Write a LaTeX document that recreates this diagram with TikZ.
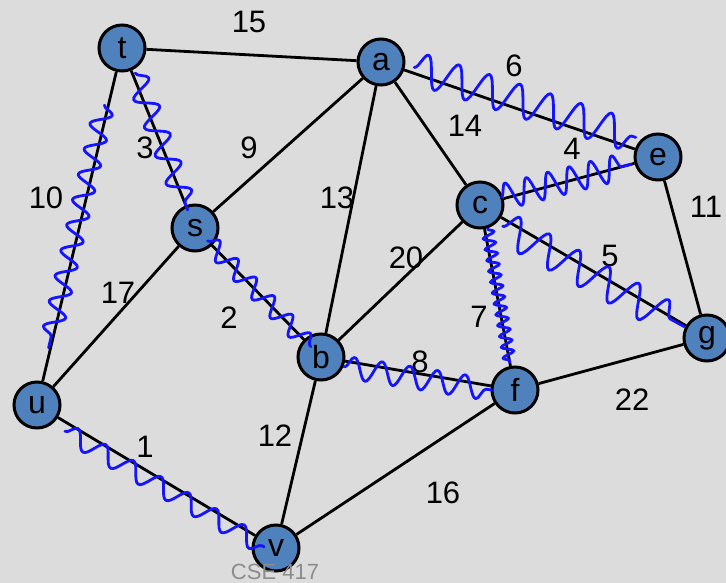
\documentclass[tikz,border=0pt]{standalone}
\usepackage{fontspec}
\setmainfont{Liberation Sans}
\usetikzlibrary{decorations.pathmorphing,calc,backgrounds}
\definecolor{bgc}{RGB}{220,220,220}
\definecolor{nodeblue}{RGB}{79,129,189}
\definecolor{hlblue}{RGB}{20,20,255}
\definecolor{credgray}{RGB}{140,140,140}
\begin{document}
\begin{tikzpicture}[x=1pt,y=-1pt,
  vert/.style={circle, draw=black, line width=3pt, fill=nodeblue, minimum size=46pt, inner sep=0pt, font=\fontsize{32}{32}\selectfont},
  edge/.style={draw=black, line width=2.8pt},
  wt/.style={font=\fontsize{31}{31}\selectfont, inner sep=0pt},
  hl/.style={draw=hlblue, line width=2.8pt, line cap=round, line join=round, decorate},
  credit/.style={font=\fontsize{22}{22}\selectfont, text=credgray, inner sep=0pt}]
\useasboundingbox (0,0) rectangle (726,583);
% nodes
\node[vert] (t) at (122,48) {t};
\node[vert] (a) at (381,62) {a};
\node[vert] (e) at (658,157) {e};
\node[vert] (c) at (480,205) {c};
\node[vert] (s) at (195,228) {s};
\node[vert] (g) at (707,338) {g};
\node[vert] (b) at (321,357) {b};
\node[vert] (f) at (515,390) {f};
\node[vert] (u) at (37,405) {u};
\node[vert] (v) at (276,548) {v};
\begin{scope}[on background layer]
\fill[bgc] (0,0) rectangle (726,583);
\draw[edge] (t) -- (a);
\draw[edge] (t) -- (s);
\draw[edge] (t) -- (u);
\draw[edge] (a) -- (s);
\draw[edge] (a) -- (b);
\draw[edge] (a) -- (c);
\draw[edge] (a) -- (e);
\draw[edge] (c) -- (e);
\draw[edge] (e) -- (g);
\draw[edge] (c) -- (g);
\draw[edge] (c) -- (b);
\draw[edge] (c) -- (f);
\draw[edge] (s) -- (b);
\draw[edge] (s) -- (u);
\draw[edge] (b) -- (f);
\draw[edge] (f) -- (g);
\draw[edge] (u) -- (v);
\draw[edge] (b) -- (v);
\draw[edge] (f) -- (v);
\end{scope}
% weights
\node[wt] (w15) at (249,22) {15};
\node[wt] (w6) at (514,66) {6};
\node[wt] (w14) at (465,126) {14};
\node[wt] (w4) at (572,149) {4};
\node[wt] (w11) at (706,207) {11};
\node[wt] (w3) at (145,148) {3};
\node[wt] (w9) at (249,148) {9};
\node[wt] (w10) at (46,198) {10};
\node[wt] (w13) at (337,198) {13};
\node[wt] (w20) at (406,258) {20};
\node[wt] (w5) at (610,256) {5};
\node[wt] (w17) at (118,293) {17};
\node[wt] (w2) at (229,318) {2};
\node[wt] (w7) at (479,317) {7};
\node[wt] (w8) at (420,362) {8};
\node[wt] (w22) at (632,400) {22};
\node[wt] (w12) at (275,436) {12};
\node[wt] (w1) at (145,447) {1};
\node[wt] (w16) at (443,493) {16};
% highlighted (hand drawn) edges
\draw[hl, decoration={snake, amplitude=10pt, segment length=26pt}] ($(t)!0.16!(u)+(-4,0)$) -- ($(u)!0.16!(t)+(-2,0)$);
\draw[hl, decoration={snake, amplitude=11pt, segment length=30pt}] ($(t)!0.14!(s)+(3,0)$) -- ($(t)!0.9!(s)$);
\draw[hl, decoration={snake, amplitude=9pt, segment length=26pt}] ($(s)!0.1!(b)$) -- ($(s)!0.92!(b)$);
\draw[hl, decoration={snake, amplitude=11pt, segment length=28pt}] ($(b)!0.12!(f)+(0,6)$) -- ($(b)!0.88!(f)+(0,4)$);
\draw[hl, decoration={snake, amplitude=6pt, segment length=11pt}] ($(c)!0.13!(f)+(3,0)$) -- ($(c)!0.85!(f)$);
\draw[hl, decoration={snake, amplitude=16pt, segment length=34pt}] ($(c)!0.1!(g)+(0,8)$) -- ($(c)!0.9!(g)+(0,2)$);
\draw[hl, decoration={snake, amplitude=13pt, segment length=22pt}] ($(c)!0.12!(e)+(0,-2)$) -- ($(c)!0.85!(e)$);
\draw[hl, decoration={snake, amplitude=16pt, segment length=32pt}] ($(a)!0.12!(e)+(0,-6)$) -- ($(a)!0.92!(e)+(0,-12)$);
\draw[hl, decoration={snake, amplitude=9pt, segment length=32pt}] ($(u)!0.1!(v)+(4,12)$) -- ($(u)!0.95!(v)+(0,6)$);
\node[credit] (cr) at (275,572) {CSE 417};
\end{tikzpicture}
\end{document}
